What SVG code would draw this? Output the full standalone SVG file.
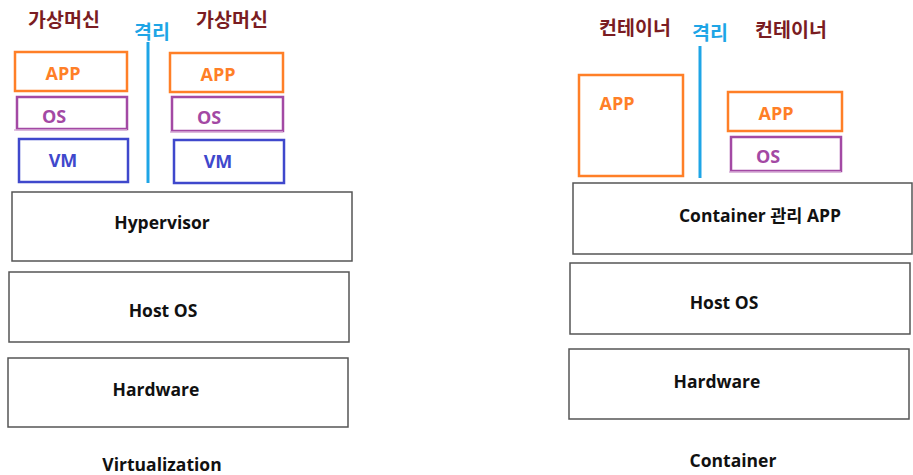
<svg xmlns="http://www.w3.org/2000/svg" width="913" height="475" viewBox="0 0 913 475">
<style>
text{font-family:"Open Sans","Noto Sans","Noto Sans CJK KR",sans-serif;font-weight:bold;text-anchor:middle}
.kr{font-family:"Noto Sans CJK KR",sans-serif;font-weight:bold;font-size:19.5px;fill:#7a1c22}
.iso{font-family:"Noto Sans CJK KR",sans-serif;font-weight:bold;font-size:19.5px;fill:#1ea5e6}
.app{fill:none;stroke:#ff7f27;stroke-width:2.5}
.os{fill:none;stroke:#a349a4;stroke-width:2.5}
.vm{fill:none;stroke:#3f48cc;stroke-width:2.5}
.layer{fill:#fff;stroke:#555;stroke-width:1.5}
.tapp{fill:#ff7f27;font-size:18px}
.tos{fill:#a349a4;font-size:18px}
.tvm{fill:#3f48cc;font-size:18px}
.tl{fill:#111;font-size:17.5px}
.sep{stroke:#1ea5e6;stroke-width:3}
</style>
<rect width="913" height="475" fill="#fff"/>
<g id="labels">
<text class="kr" x="64" y="27">가상머신</text>
<text class="kr" x="232" y="27">가상머신</text>
<text class="iso" x="152" y="39">격리</text>
<text class="kr" x="635" y="35">컨테이너</text>
<text class="kr" x="791" y="37">컨테이너</text>
<text class="iso" x="710" y="40">격리</text>
</g>
<g id="connectors">
<line class="sep" x1="148" y1="42" x2="148" y2="183"/>
<line class="sep" x1="700" y1="46" x2="700" y2="178"/>
</g>
<g id="vm1">
<rect class="app" x="15" y="52" width="112" height="39"/><text class="tapp" x="63" y="80">APP</text>
<rect class="os" x="17" y="97" width="110" height="32"/><line x1="14" y1="130" x2="127" y2="130" stroke="#d8b0d8" stroke-width="1.5"/><text class="tos" x="54" y="123">OS</text>
<rect class="vm" x="19" y="139" width="109" height="43"/><text class="tvm" x="63" y="167">VM</text>
</g>
<g id="vm2">
<rect class="app" x="170" y="53" width="113" height="39"/><text class="tapp" x="218" y="81">APP</text>
<rect class="os" x="172" y="97" width="111" height="34"/><line x1="170" y1="132" x2="283" y2="132" stroke="#d8b0d8" stroke-width="1.5"/><text class="tos" x="209" y="124">OS</text>
<rect class="vm" x="174" y="140" width="110" height="43"/><text class="tvm" x="218" y="168">VM</text>
</g>
<g id="hypervisor"><rect class="layer" x="12" y="192" width="340" height="69"/><text class="tl" x="162" y="229">Hypervisor</text></g>
<g id="hostos1"><rect class="layer" x="9" y="272" width="340" height="70"/><text class="tl" x="163" y="317">Host OS</text></g>
<g id="hardware1"><rect class="layer" x="8" y="358" width="340" height="69"/><text class="tl" x="156" y="396">Hardware</text></g>
<text class="tl" x="162" y="471">Virtualization</text>
<g id="container1"><rect class="app" x="579" y="75" width="104" height="101"/><text class="tapp" x="617" y="110">APP</text></g>
<g id="container2">
<rect class="app" x="728" y="92" width="114" height="39"/><text class="tapp" x="776" y="120">APP</text>
<rect class="os" x="731" y="137" width="110" height="34"/><line x1="729" y1="172" x2="841" y2="172" stroke="#d8b0d8" stroke-width="1.5"/><text class="tos" x="768" y="163">OS</text>
</g>
<g id="mgmt"><rect class="layer" x="573" y="183" width="339" height="71"/><text class="tl" x="760" y="222">Container 관리 APP</text></g>
<g id="hostos2"><rect class="layer" x="570" y="263" width="340" height="71"/><text class="tl" x="724" y="309">Host OS</text></g>
<g id="hardware2"><rect class="layer" x="569" y="349" width="340" height="70"/><text class="tl" x="717" y="388">Hardware</text></g>
<text class="tl" x="733" y="467">Container</text>
</svg>
